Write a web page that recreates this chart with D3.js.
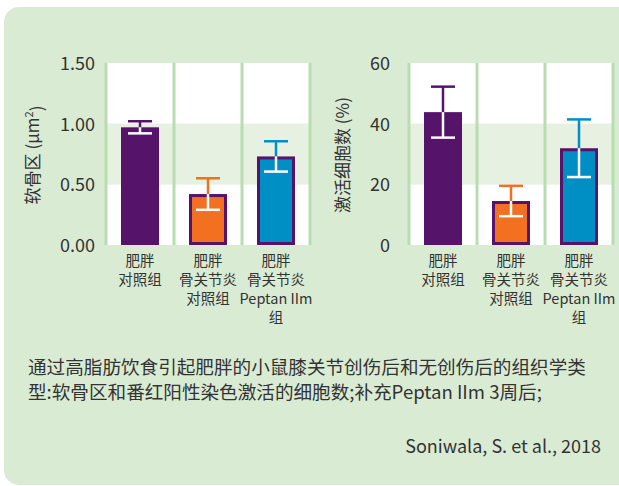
<!DOCTYPE html>
<html><head><meta charset="utf-8">
<script src="https://cdn.jsdelivr.net/npm/d3@7"></script>
<style>html,body{margin:0;padding:0;background:#fff;}svg{display:block;}</style>
</head><body>
<svg id="c" width="619" height="486"></svg>
<script>
const categories = [["肥胖","对照组"],["肥胖","骨关节炎","对照组"],["肥胖","骨关节炎","Peptan IIm","组"]];
const catKeys = ["a","b","c"];
const cartilageValues = [0.97, 0.42, 0.73];
const cartilageErrors = [0.05, 0.13, 0.125];
const cellValues = [43.8, 14.5, 31.9];
const cellErrors = [8.4, 5.0, 9.5];
const cartilageTicks = [0, 0.5, 1.0, 1.5];
const cellTicks = [0, 20, 40, 60];
const barColors = ["#55146a", "#f37021", "#008fc5"];
const captionLines = ["通过高脂肪饮食引起肥胖的小鼠膝关节创伤后和无创伤后的组织学类","型:软骨区和番红阳性染色激活的细胞数;补充Peptan IIm 3周后;"];
const source = "Soniwala, S. et al., 2018";

const svg = d3.select("#c");
const FONT = "'Noto Sans CJK SC', 'Noto Sans', sans-serif";
const TXT = "#333";

svg.append("rect").attr("x",4).attr("y",7).attr("width",630).attr("height",478)
  .attr("rx",15).attr("fill","#daebd4");

function panel(opts){
  const {x0,x1,values,errors,ticks,fmt,title,titleX,tickX} = opts;
  const y = d3.scaleLinear().domain([0, d3.max(ticks)]).range([245, 63]);
  const x = d3.scaleBand().domain(catKeys).range([x0,x1]);
  const g = svg.append("g");
  const bands = [[ticks[0],ticks[1],"#ffffff"],[ticks[1],ticks[2],"#e6f1e1"],[ticks[2],ticks[3],"#ffffff"]];
  g.selectAll("rect.band").data(bands).join("rect")
    .attr("x",x0).attr("width",x1-x0)
    .attr("y",d=>y(d[1])).attr("height",d=>y(d[0])-y(d[1]))
    .attr("fill",d=>d[2]);
  const seps = catKeys.map(k=>x(k)).concat([x1]);
  g.selectAll("line.sep").data(seps).join("line")
    .attr("x1",d=>d).attr("x2",d=>d).attr("y1",y(ticks[3])).attr("y2",y(0))
    .attr("stroke","#b9dcb0").attr("stroke-width",3);
  const ax = d3.axisLeft(y).tickValues(ticks).tickFormat(fmt).tickSize(0).tickPadding(0);
  const axg = g.append("g").attr("transform",`translate(${tickX},0)`).call(ax);
  axg.select(".domain").remove();
  axg.selectAll("text").attr("font-family",FONT).attr("font-size",18).attr("fill",TXT).attr("dy","0.36em");
  g.append("text").attr("transform",`translate(${titleX},155) rotate(-90)`)
    .attr("text-anchor","middle").attr("dy","0.36em").attr("font-family",FONT).attr("font-size",17).attr("fill",TXT)
    .each(function(){ const t=d3.select(this); title(t); });
  const bw = 38, sw = 3;
  const cx = k => x(k)+x.bandwidth()/2;
  g.selectAll("rect.bar").data(catKeys).join("rect")
    .attr("x",(k)=>cx(k)-bw/2+sw/2).attr("width",bw-sw)
    .attr("y",(k,i)=>y(values[i])+sw/2).attr("height",(k,i)=>y(0)-y(values[i])-sw)
    .attr("fill",(k,i)=>barColors[i]).attr("stroke",barColors[0]).attr("stroke-width",sw);
  const cap = 12;
  catKeys.forEach((k,i)=>{
    const c = cx(k), v=values[i], e=errors[i];
    g.append("line").attr("x1",c).attr("x2",c).attr("y1",y(v)).attr("y2",y(v+e)).attr("stroke",barColors[i]).attr("stroke-width",2.5);
    g.append("line").attr("x1",c-cap).attr("x2",c+cap).attr("y1",y(v+e)).attr("y2",y(v+e)).attr("stroke",barColors[i]).attr("stroke-width",2.5);
    g.append("line").attr("x1",c).attr("x2",c).attr("y1",y(v)).attr("y2",y(v-e)).attr("stroke","#fff").attr("stroke-width",2.5);
    g.append("line").attr("x1",c-cap).attr("x2",c+cap).attr("y1",y(v-e)).attr("y2",y(v-e)).attr("stroke","#fff").attr("stroke-width",2.5);
  });
  catKeys.forEach((k,i)=>{
    const t = g.append("text").attr("text-anchor","middle").attr("font-family",FONT).attr("font-size",14.5).attr("fill",TXT);
    categories[i].forEach((ln,j)=>{
      t.append("tspan").attr("x",cx(k)).attr("y",261+j*19).attr("dy","0.36em").text(ln);
    });
  });
}

panel({x0:106,x1:310,values:cartilageValues,errors:cartilageErrors,ticks:cartilageTicks,
  fmt:d3.format(".2f"),titleX:33,tickX:95,
  title:t=>{t.append("tspan").text("软骨区 (μm");t.append("tspan").attr("font-size",11).attr("dy","-0.6em").text("2");t.append("tspan").attr("dy","0.6em").text(")");}});
panel({x0:409,x1:613,values:cellValues,errors:cellErrors,ticks:cellTicks,
  fmt:d3.format("d"),titleX:343,tickX:390,
  title:t=>{t.text("激活细胞数 (%)");}});

captionLines.forEach((ln,i)=>{
  svg.append("text").attr("x",28).attr("y",367+i*25).attr("dy","0.36em")
    .attr("font-family",FONT).attr("font-size",18.6).attr("fill",TXT).text(ln);
});
svg.append("text").attr("x",601).attr("y",447).attr("dy","0.36em").attr("text-anchor","end")
  .attr("font-family",FONT).attr("font-size",18).attr("fill",TXT).text(source);
</script>
</body></html>
